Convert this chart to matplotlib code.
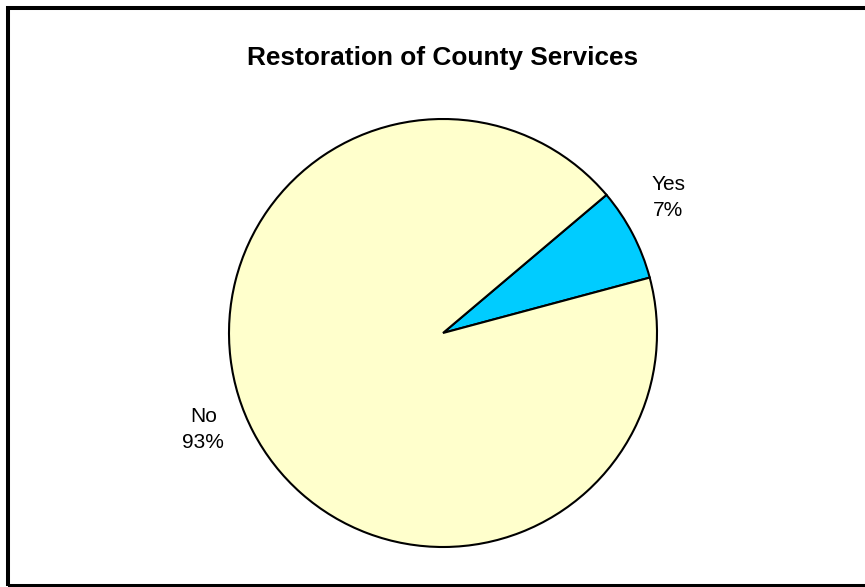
import numpy as np
import matplotlib.pyplot as plt
from matplotlib.patches import Rectangle

plt.rcParams['font.family'] = ['Liberation Sans', 'DejaVu Sans']

labels = ['Yes', 'No']
values = [7, 93]
colors = ['#00CCFF', '#FFFFCC']
label_angles = [31, 202]  # degrees, where each category label sits
label_dists = [1.227, 1.208]

W, H = 865, 587
fig = plt.figure(figsize=(W / 100, H / 100), dpi=100)

# chart frame, runs off the right edge
frame = Rectangle((8 / W, 1 / H), 870 / W, (H - 9) / H, transform=fig.transFigure,
                  fill=False, edgecolor='black', linewidth=2.9, clip_on=False)
fig.patches.append(frame)

fig.text(443 / W, 1 - 58 / H, 'Restoration of County Services', ha='center', va='center',
         fontsize=18.9, fontweight='bold')

cx, cy, r = 443, 333, 214
ax = fig.add_axes([(cx - r) / W, (H - cy - r) / H, 2 * r / W, 2 * r / H])
wedges, _ = ax.pie(values, colors=colors, startangle=15, counterclock=True,
                   wedgeprops=dict(edgecolor='black', linewidth=1.5))
ax.set_xlim(-1, 1)
ax.set_ylim(-1, 1)
ax.set_aspect('auto')
ax.axis('off')

for lab, v, a, d in zip(labels, values, label_angles, label_dists):
    t = np.radians(a)
    ax.text(d * np.cos(t), d * np.sin(t), f'{lab}\n{v}%',
            ha='center', va='center', fontsize=15, linespacing=1.45, clip_on=False)

fig.savefig('out.png', dpi=100)
